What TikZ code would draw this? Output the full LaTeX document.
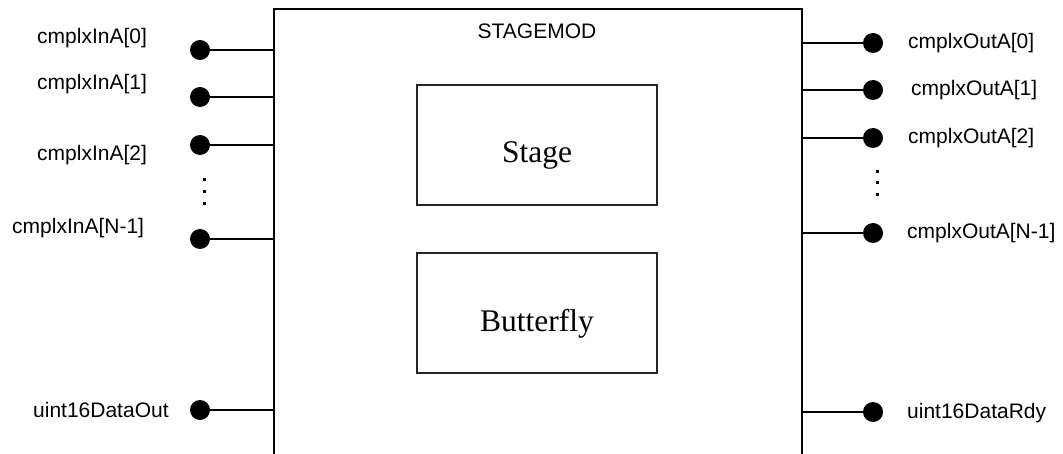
\documentclass[tikz,border=0pt]{standalone}
\usepackage{fontspec}
\setmainfont{Liberation Serif}
\newfontfamily\labelfont{Liberation Sans}
\begin{document}
\begin{tikzpicture}[x=1pt,y=-1pt,
  pin/.style={circle,fill=black,inner sep=0pt,minimum size=20pt},
  wire/.style={line width=1.3pt},
  sig/.style={font=\labelfont\fontsize{21}{25}\selectfont, inner sep=0pt, anchor=base west},
  block/.style={draw=black!85, line width=2pt, minimum width=240pt, minimum height=120pt, inner sep=0pt},
  blocktext/.style={font=\fontsize{31.5}{36}\selectfont, inner sep=0pt, anchor=base},
  ellip/.style={fill=black}
]
\useasboundingbox (0,0) rectangle (1063,454);

% module outline, open at the bottom edge
\begin{scope}
  \clip (0,0) rectangle (1063,454);
  \node[draw, line width=2pt, anchor=north west, minimum width=528pt,
        minimum height=520pt, inner sep=0pt] (mod) at (273,8) {};
\end{scope}
\node[font=\labelfont\fontsize{21}{25}\selectfont, inner sep=0pt, anchor=base] (title) at (537,39) {STAGEMOD};

% inner blocks
\node[block] (stage) at (537,145) {};
\node[blocktext] (stagetxt) at (537,163) {Stage};
\node[block] (bfly) at (537,313) {};
\node[blocktext] (bflytxt) at (537,331) {Butterfly};

% input pins
\node[pin] (i0) at (200,50) {};
\node[pin] (i1) at (200,97) {};
\node[pin] (i2) at (200,145) {};
\node[pin] (i3) at (200,239) {};
\node[pin] (i4) at (200,410) {};
\foreach \p in {i0,i1,i2,i3,i4}
  \draw[wire] (\p) -- (\p -| mod.west);

\node[sig] (li0) at (37,44) {cmplxInA[0]};
\node[sig] (li1) at (37,90) {cmplxInA[1]};
\node[sig] (li2) at (37,161) {cmplxInA[2]};
\node[sig] (li3) at (12,234) {cmplxInA[N-1]};
\node[sig] (li4) at (33,417) {uint16DataOut};

% output pins
\node[pin] (o0) at (873,43) {};
\node[pin] (o1) at (873,90) {};
\node[pin] (o2) at (873,138) {};
\node[pin] (o3) at (873,233) {};
\node[pin] (o4) at (873,412) {};
\foreach \p in {o0,o1,o2,o3,o4}
  \draw[wire] (\p -| mod.east) -- (\p);

\node[sig] (lo0) at (908,48.5) {cmplxOutA[0]};
\node[sig] (lo1) at (911,95.5) {cmplxOutA[1]};
\node[sig] (lo2) at (908,143.5) {cmplxOutA[2]};
\node[sig] (lo3) at (907,238.5) {cmplxOutA[N-1]};
\node[sig] (lo4) at (907,418) {uint16DataRdy};

% vertical ellipses
\foreach \y in {180,192,204}
  \fill[ellip] (202.5,\y-1.5) rectangle ++(3,3);
\foreach \y in {172,183,195}
  \fill[ellip] (875.5,\y-1.5) rectangle ++(3,3);
\end{tikzpicture}
\end{document}
